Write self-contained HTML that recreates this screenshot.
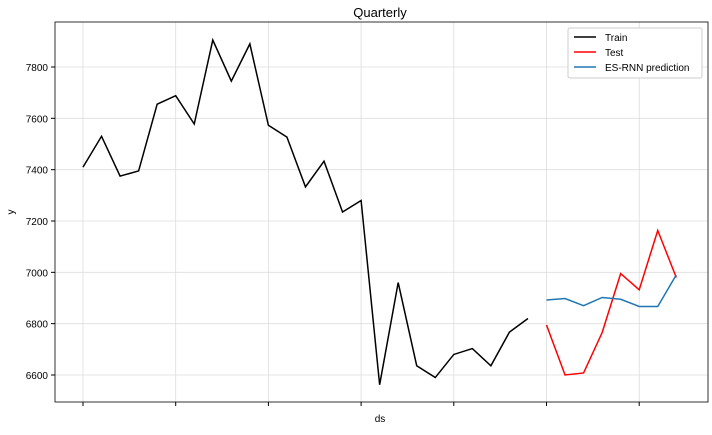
<!DOCTYPE html>
<html><head><meta charset="utf-8"><style>
body{margin:0;background:#fff;font-family:"Liberation Sans",sans-serif;}
svg text{font-family:"Liberation Sans",sans-serif;}
</style></head><body>
<svg id="chart" width="712" height="430">
<rect x="0" y="0" width="712" height="430" fill="#fff"/>
<text x="380" y="17" text-anchor="middle" font-size="13">Quarterly</text>
<g id="grid"></g><g id="axes"></g><g id="series"></g>
<rect x="55" y="22" width="653" height="380" fill="none" stroke="#000" stroke-width="0.8"/>
<text x="380" y="422" text-anchor="middle" font-size="10">ds</text>
<text x="14" y="212" text-anchor="middle" font-size="10" transform="rotate(-90 14 212)">y</text>
<g>
<rect x="568" y="28" width="134" height="50" fill="#fff" stroke="#ccc" rx="2"/>
<line x1="574" y1="37" x2="596" y2="37" stroke="#000" stroke-width="1.5"/><text x="605" y="41" font-size="10">Train</text>
<line x1="574" y1="52" x2="596" y2="52" stroke="#f00" stroke-width="1.5"/><text x="605" y="56" font-size="10">Test</text>
<line x1="574" y1="67" x2="596" y2="67" stroke="#1f77b4" stroke-width="1.5"/><text x="605" y="71" font-size="10">ES-RNN prediction</text>
</g>
</svg>
<script>
const train=[7410,7530,7375,7395,7655,7688,7578,7905,7745,7890,7573,7527,7333,7433,7235,7280,6562,6960,6636,6590,6680,6703,6636,6767,6820];
const test=[6795,6600,6608,6765,6995,6932,7163,6980];
const pred=[6892,6898,6870,6902,6895,6867,6867,6990];
const yTicks=[6600,6800,7000,7200,7400,7600,7800];
const xTickIdx=[0,5,10,15,20,25,30];
const ns="http://www.w3.org/2000/svg";
const X=i=>83+i*18.54;
const Y=v=>375-(v-6600)*(308/1200);
const grid=document.getElementById('grid'),axes=document.getElementById('axes'),ser=document.getElementById('series');
function mk(t,a,p){const e=document.createElementNS(ns,t);for(const k in a)e.setAttribute(k,a[k]);p.appendChild(e);return e;}
yTicks.forEach(v=>{
 const g=mk('line',{x1:55,x2:708,y1:Y(v),y2:Y(v),stroke:'#ddd','stroke-width':0.8},grid);
 
 
 mk('line',{x1:51,x2:55,y1:Y(v),y2:Y(v),stroke:'#000'},axes);
 const t=mk('text',{x:48,y:Y(v)+4,'text-anchor':'end','font-size':10},axes);t.textContent=v;
 
 
});
xTickIdx.forEach(i=>{
 const g=mk('line',{x1:X(i),x2:X(i),y1:22,y2:402,stroke:'#ddd','stroke-width':0.8},grid);
 
 
 mk('line',{x1:X(i),x2:X(i),y1:402,y2:406,stroke:'#000'},axes);
});
function line(arr,off,col,name){
 const p=mk('polyline',{points:arr.map((v,i)=>X(i+off)+','+Y(v)).join(' '),fill:'none',stroke:col,'stroke-width':1.5},ser);
 
 
}
line(train,0,'#000','train-line');
line(test,train.length,'#f00','test-line');
line(pred,train.length,'#1f77b4','esrnn-prediction-line');
</script>
</body></html>
